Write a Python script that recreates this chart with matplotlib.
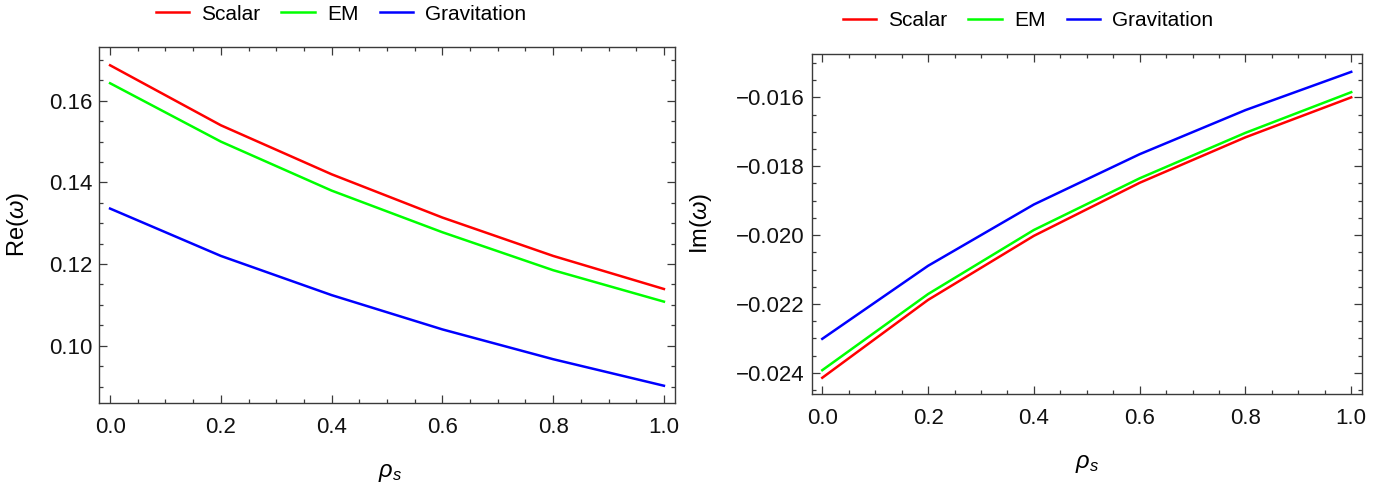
import matplotlib
matplotlib.use("Agg")
import matplotlib.pyplot as plt
from matplotlib.ticker import MultipleLocator, FuncFormatter

plt.rcParams['font.family'] = ['Liberation Sans', 'DejaVu Sans']
plt.rcParams['mathtext.fontset'] = 'custom'
plt.rcParams['mathtext.rm'] = 'Liberation Sans'
plt.rcParams['mathtext.it'] = 'Liberation Sans:italic'

rho_s = [0.0, 0.2, 0.4, 0.6, 0.8, 1.0]

re_scalar = [0.1687, 0.1540, 0.1420, 0.1314, 0.1220, 0.1139]
re_em = [0.1643, 0.1500, 0.1380, 0.1278, 0.1185, 0.1108]
re_grav = [0.1336, 0.1220, 0.1124, 0.1040, 0.0967, 0.0902]

im_scalar = [-0.02414, -0.02188, -0.02002, -0.01848, -0.01716, -0.01600]
im_em = [-0.02392, -0.02171, -0.01985, -0.01835, -0.01703, -0.01585]
im_grav = [-0.02301, -0.02089, -0.01911, -0.01765, -0.01637, -0.01526]

series_names = ["Scalar", "EM", "Gravitation"]
series_colors = ["#ff0000", "#00ff00", "#0000ff"]

W, H = 1395, 484
fig = plt.figure(figsize=(W / 100, H / 100), dpi=100)

L1 = (99, 675, 47.3, 403.3)
L2 = (811.7, 1361.8, 54.3, 394.3)


def axes_at(x0, x1, top, bot):
    return fig.add_axes([x0 / W, 1 - bot / H, (x1 - x0) / W, (bot - top) / H])


ax1 = axes_at(*L1)
ax2 = axes_at(*L2)

frame_col = "#3a3a3a"


def fmt(decimals):
    return FuncFormatter(lambda v, p: f"{v:.{decimals}f}".replace("-", "\u2212"))


def style(ax, ymaj, ymin, ydec):
    for s in ax.spines.values():
        s.set_color(frame_col)
        s.set_linewidth(1.0)
    ax.xaxis.set_major_locator(MultipleLocator(0.2))
    ax.xaxis.set_minor_locator(MultipleLocator(0.05))
    ax.yaxis.set_major_locator(MultipleLocator(ymaj))
    ax.yaxis.set_minor_locator(MultipleLocator(ymin))
    ax.xaxis.set_major_formatter(fmt(1))
    ax.yaxis.set_major_formatter(fmt(ydec))
    ax.tick_params(which='both', direction='in', top=True, right=True,
                   color=frame_col, width=0.9, labelsize=16, labelcolor='#111111')
    ax.tick_params(which='major', length=5.5)
    ax.tick_params(which='minor', length=3)
    ax.tick_params(axis='x', which='major', pad=10)
    ax.tick_params(axis='y', which='major', pad=5)
    ax.set_xlim(-0.02, 1.02)


for ax, data in ((ax1, (re_scalar, re_em, re_grav)), (ax2, (im_scalar, im_em, im_grav))):
    for vals, name, col in zip(data, series_names, series_colors):
        ax.plot(rho_s, vals, color=col, lw=1.8, label=name)

style(ax1, 0.02, 0.005, 2)
style(ax2, 0.002, 0.0005, 3)
ax1.set_ylim(0.0859, 0.1731)
ax2.set_ylim(-0.02462, -0.01475)


def label_pos(box, px, py):
    x0, x1, top, bot = box
    return (px - x0) / (x1 - x0), (bot - py) / (bot - top)


ax1.set_ylabel(r'$\mathrm{Re}(\omega)$', fontsize=17)
ax2.set_ylabel(r'$\mathrm{Im}(\omega)$', fontsize=17)
ax1.yaxis.set_label_coords(*label_pos(L1, 31, 225))
ax2.yaxis.set_label_coords(*label_pos(L2, 714, 223))
ax1.set_xlabel(r'$\rho_s$', fontsize=17)
ax2.set_xlabel(r'$\rho_s$', fontsize=17)
ax1.xaxis.set_label_coords(*label_pos(L1, 390, 462))
ax2.xaxis.set_label_coords(*label_pos(L2, 1087, 453))

leg_kw = dict(loc='center', ncol=3, frameon=False, fontsize=15, handlelength=1.6,
              handletextpad=0.6, columnspacing=1.0)
h1, l1 = ax1.get_legend_handles_labels()
fig.legend(h1, l1, bbox_to_anchor=(341 / W, 1 - 14 / H), **leg_kw)
h2, l2 = ax2.get_legend_handles_labels()
fig.legend(h2, l2, bbox_to_anchor=(1028 / W, 1 - 20.7 / H), **leg_kw)

fig.savefig("out.png", dpi=100)
